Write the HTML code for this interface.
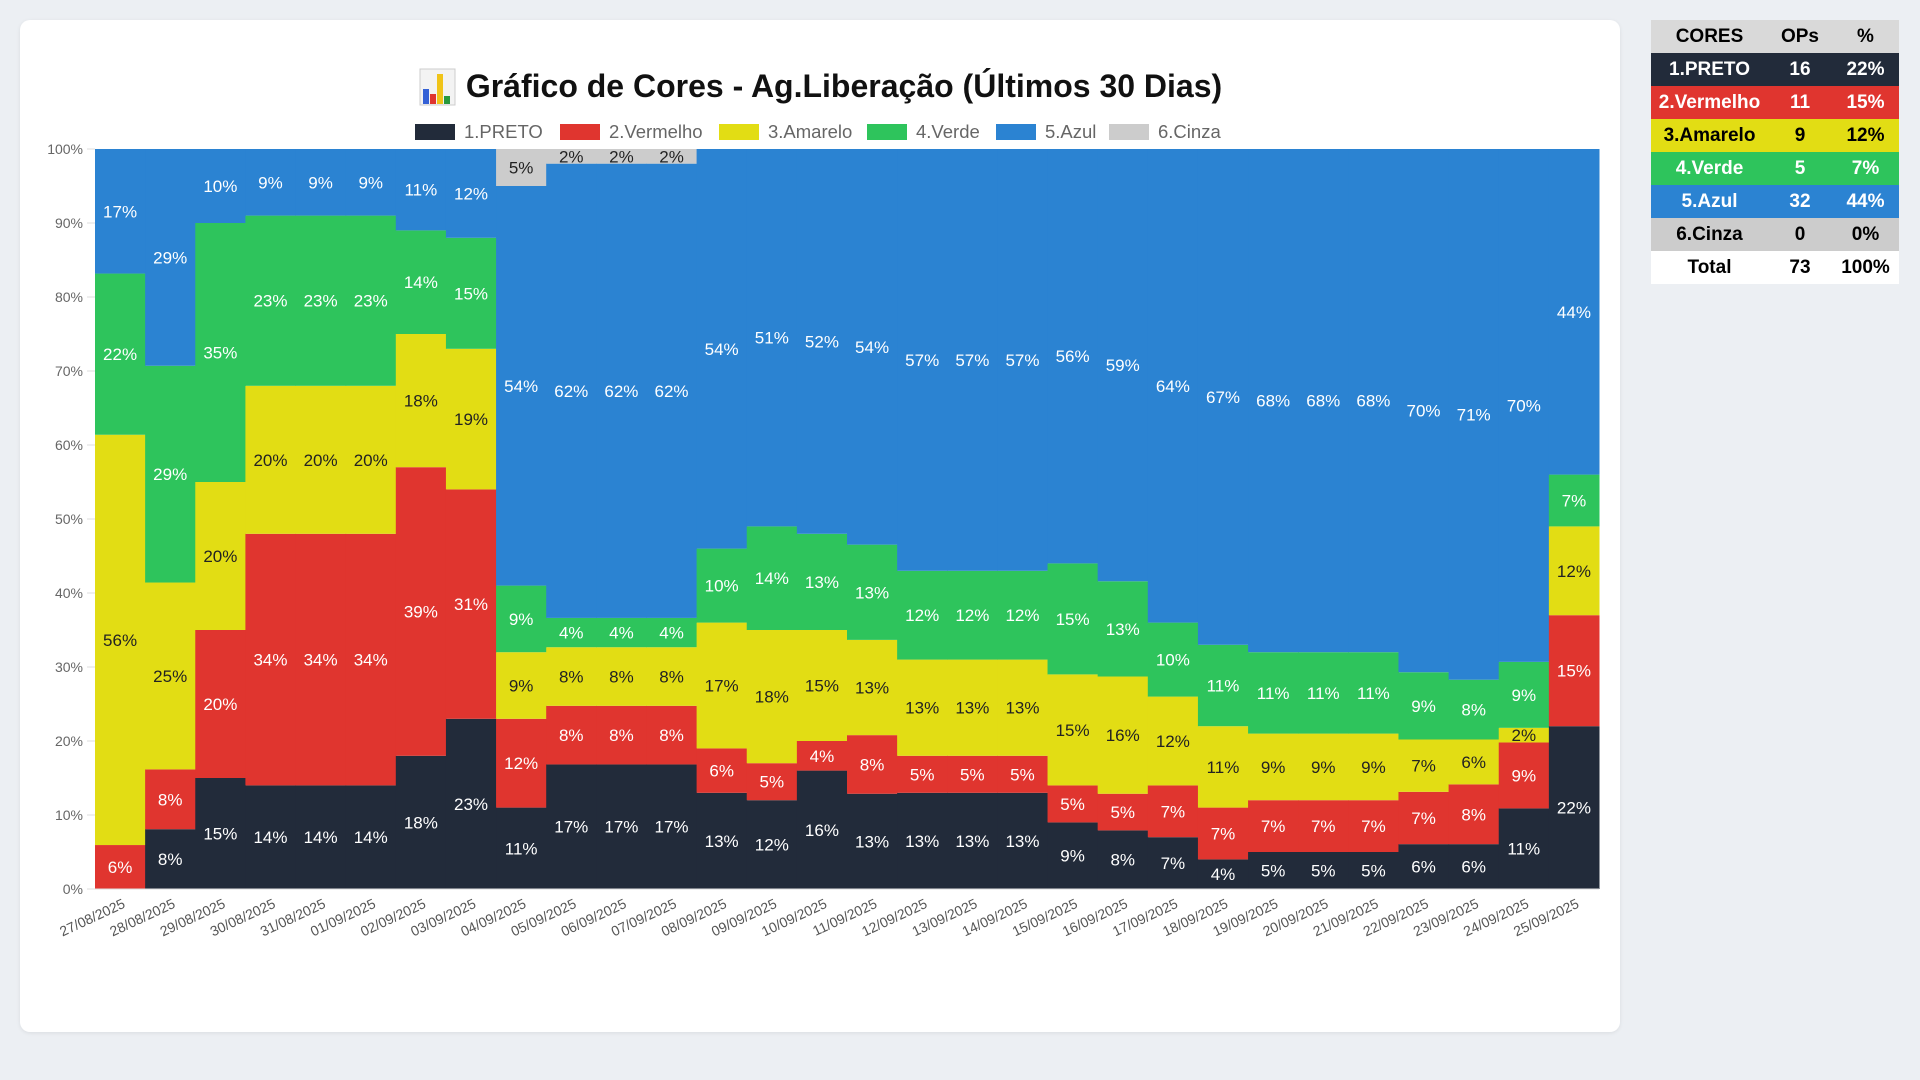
<!DOCTYPE html>
<html><head><meta charset="utf-8"><style>
body{margin:0;width:1920px;height:1080px;background:#eceff3;font-family:"Liberation Sans",sans-serif;position:relative;overflow:hidden}
#card{position:absolute;left:20px;top:20px;width:1600px;height:1012px;background:#fff;border-radius:10px;box-shadow:0 1px 4px rgba(0,0,0,.08)}
#tbl{position:absolute;left:1651px;top:20px;width:248px;border-collapse:collapse;font-weight:bold;font-size:19px;text-align:center;table-layout:fixed}
#tbl td{height:33px;padding:0}
</style></head><body>
<div id="card"></div>
<svg id="chart" width="1920" height="1080" style="position:absolute;left:0;top:0"></svg>
<table id="tbl">
<colgroup><col style="width:117px"><col style="width:64px"><col style="width:67px"></colgroup>
<tr style="background:#d9d9d9;color:#000"><td>CORES</td><td>OPs</td><td>%</td></tr>
<tr style="background:#222b3a;color:#fff"><td>1.PRETO</td><td>16</td><td>22%</td></tr>
<tr style="background:#e0352f;color:#fff"><td>2.Vermelho</td><td>11</td><td>15%</td></tr>
<tr style="background:#e2dd14;color:#000"><td>3.Amarelo</td><td>9</td><td>12%</td></tr>
<tr style="background:#2ec45c;color:#fff"><td>4.Verde</td><td>5</td><td>7%</td></tr>
<tr style="background:#2b83d2;color:#fff"><td>5.Azul</td><td>32</td><td>44%</td></tr>
<tr style="background:#cccccc;color:#000"><td>6.Cinza</td><td>0</td><td>0%</td></tr>
<tr style="background:#fff;color:#000"><td>Total</td><td>73</td><td>100%</td></tr>
</table>
<script>
const dates=["27/08/2025","28/08/2025","29/08/2025","30/08/2025","31/08/2025","01/09/2025","02/09/2025","03/09/2025","04/09/2025","05/09/2025","06/09/2025","07/09/2025","08/09/2025","09/09/2025","10/09/2025","11/09/2025","12/09/2025","13/09/2025","14/09/2025","15/09/2025","16/09/2025","17/09/2025","18/09/2025","19/09/2025","20/09/2025","21/09/2025","22/09/2025","23/09/2025","24/09/2025","25/09/2025"];
const preto=[0,8,15,14,14,14,18,23,11,17,17,17,13,12,16,13,13,13,13,9,8,7,4,5,5,5,6,6,11,22];
const vermelho=[6,8,20,34,34,34,39,31,12,8,8,8,6,5,4,8,5,5,5,5,5,7,7,7,7,7,7,8,9,15];
const amarelo=[56,25,20,20,20,20,18,19,9,8,8,8,17,18,15,13,13,13,13,15,16,12,11,9,9,9,7,6,2,12];
const verde=[22,29,35,23,23,23,14,15,9,4,4,4,10,14,13,13,12,12,12,15,13,10,11,11,11,11,9,8,9,7];
const azul=[17,29,10,9,9,9,11,12,54,62,62,62,54,51,52,54,57,57,57,56,59,64,67,68,68,68,70,71,70,44];
const cinza=[0,0,0,0,0,0,0,0,5,2,2,2,0,0,0,0,0,0,0,0,0,0,0,0,0,0,0,0,0,0];
const yTicks=[0,10,20,30,40,50,60,70,80,90,100];
const seriesNames=["1.PRETO","2.Vermelho","3.Amarelo","4.Verde","5.Azul","6.Cinza"];
const series=[preto,vermelho,amarelo,verde,azul,cinza];
const colors=["#222b3a","#e0352f","#e2dd14","#2ec45c","#2b83d2","#cccccc"];
const textCol=["#fff","#fff","#222","#fff","#fff","#222"];
const NS="http://www.w3.org/2000/svg";
const svg=document.getElementById('chart');
const X0=95,X1=1599,Y0=889,Y1=149;
const bw=(X1-X0)/dates.length;
const xs=i=>X0+i*bw;
const ys=v=>Y0-(v/100)*(Y0-Y1);
function mk(tag,attrs,txt){const e=document.createElementNS(NS,tag);for(const k in attrs)e.setAttribute(k,attrs[k]);if(txt!==undefined)e.textContent=txt;svg.appendChild(e);return e;}
const title=mk('text',{x:844,y:97,'text-anchor':'middle','font-size':32,'font-weight':'bold',fill:'#111'},'Gráfico de Cores - Ag.Liberação (Últimos 30 Dias)');


const ic=mk('rect',{x:420,y:69,width:35,height:36,fill:'#f3f3f3',stroke:'#ccc'});


[[423,89,6,'#3461d6'],[430,94,6,'#e0352f'],[437,74,6,'#f0c419'],[444,96,6,'#2a9a3e']].forEach(b=>{const r=mk('rect',{x:b[0],y:b[1],width:b[2],height:104-b[1],fill:b[3]});});
const legX=[415,560,719,867,996,1109];
seriesNames.forEach((n,k)=>{
  const r=mk('rect',{x:legX[k],y:124,width:40,height:16,fill:colors[k]});
  
  
  const t=mk('text',{x:legX[k]+49,y:138,'font-size':18.5,fill:'#666'},n);
  
  
});
yTicks.forEach(v=>{
  const l=mk('line',{x1:X0-8,x2:X0,y1:ys(v),y2:ys(v),stroke:'#ddd'});
  
  
  const t=mk('text',{x:X0-12,y:ys(v)+5,'text-anchor':'end','font-size':14,fill:'#666'},v+'%');
  
  
});
dates.forEach((d,i)=>{
  const tot=series.reduce((s,a)=>s+a[i],0)||1;
  let acc=0;
  series.forEach((a,k)=>{
    const v=a[i];if(v<=0)return;
    const p=v/tot*100;
    const yt=ys(acc+p),yb=ys(acc);
    const r=mk('rect',{x:xs(i),y:yt,width:bw+0.5,height:yb-yt,fill:colors[k]});
    
    
    const t=mk('text',{x:xs(i)+bw/2,y:(yt+yb)/2+6,'text-anchor':'middle','font-size':17,fill:textCol[k]},v+'%');
    
    
    acc+=p;
  });
  const xl=mk('text',{x:xs(i)+bw/2+6,y:Y0+18,'text-anchor':'end','font-size':14,fill:'#555',transform:`rotate(-25 ${xs(i)+bw/2+6} ${Y0+18})`},d);
  
  
});
const base=mk('line',{x1:X0,x2:X1,y1:Y0,y2:Y0,stroke:'#ddd'});


</script>
</body></html>
